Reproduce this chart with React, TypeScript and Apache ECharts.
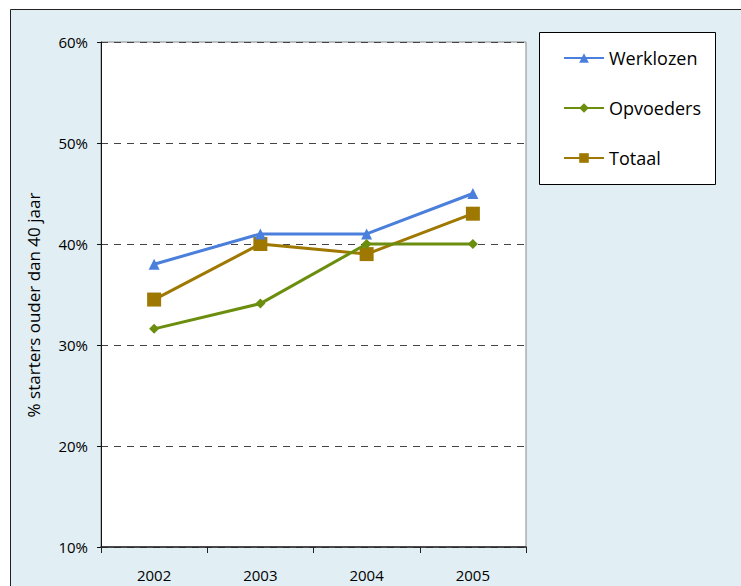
import React, { useEffect, useRef } from "react";
import * as echarts from "echarts";

const categories = ["2002", "2003", "2004", "2005"];
const werklozen = [38, 41, 41, 45];
const opvoeders = [31.6, 34.1, 40, 40];
const totaal = [34.5, 40, 39, 43];
const yTicks = { min: 10, max: 60, interval: 10 };

const FONT = "'Open Sans', sans-serif";

export default function App() {
  const ref = useRef<HTMLDivElement>(null);
  useEffect(() => {
    if (!ref.current) return;
    const chart = echarts.init(ref.current, null, { renderer: "svg" });
    chart.setOption({
      animation: false,
      backgroundColor: "#ffffff",
      textStyle: { fontFamily: FONT },
      graphic: [
        {
          type: "rect",
          z: -100,
          silent: true,
          shape: { x: 10.5, y: 9.5, width: 800, height: 700 },
          style: { fill: "#e1eef3", stroke: "#222222", lineWidth: 1 },
        },
        {
          type: "rect",
          z: 10,
          silent: true,
          shape: { x: 539.5, y: 32.5, width: 176, height: 152 },
          style: { fill: "#ffffff", stroke: "#000000", lineWidth: 1 },
        },
        {
          type: "text",
          z: 10,
          x: 33,
          y: 305,
          rotation: Math.PI / 2,
          style: {
            text: "% starters ouder dan 40 jaar",
            fontFamily: FONT,
            fontSize: 17,
            fill: "#000000",
            align: "center",
            verticalAlign: "middle",
          },
        },
      ],
      grid: {
        left: 101,
        top: 42,
        right: 215,
        bottom: 39,
        show: true,
        backgroundColor: "#ffffff",
        borderColor: "#8a8a8a",
        borderWidth: 1,
      },
      legend: {
        orient: "vertical",
        left: 563,
        top: 48,
        padding: 0,
        itemWidth: 40,
        itemHeight: 12,
        itemGap: 30,
        z: 20,
        textStyle: {
          fontFamily: FONT,
          fontSize: 18,
          lineHeight: 20,
          color: "#000000",
        },
        data: ["Werklozen", "Opvoeders", "Totaal"],
      },
      xAxis: {
        type: "category",
        data: categories,
        boundaryGap: true,
        axisLine: { lineStyle: { color: "#222222", width: 1.5 } },
        axisTick: { show: true, length: 6, lineStyle: { color: "#222222" } },
        axisLabel: { fontFamily: FONT, fontSize: 15, color: "#000000", margin: 20 },
        splitLine: { show: false },
      },
      yAxis: {
        type: "value",
        min: yTicks.min,
        max: yTicks.max,
        interval: yTicks.interval,
        axisLine: { show: true, lineStyle: { color: "#111111", width: 1 } },
        axisTick: { show: true, length: 4, lineStyle: { color: "#111111" } },
        axisLabel: {
          fontFamily: FONT,
          fontSize: 15,
          color: "#000000",
          margin: 13,
          formatter: "{value}%",
        },
        splitLine: {
          show: true,
          lineStyle: { color: "#444444", type: [7, 6], width: 1 },
        },
      },
      series: [
        {
          name: "Werklozen",
          type: "line",
          data: werklozen,
          symbol: "triangle",
          symbolSize: 11,
          color: "#4a7fdc",
          lineStyle: { width: 3, color: "#4a7fdc" },
          itemStyle: { color: "#4a7fdc" },
          z: 3,
        },
        {
          name: "Opvoeders",
          type: "line",
          data: opvoeders,
          symbol: "diamond",
          symbolSize: 10,
          color: "#6b8e0e",
          lineStyle: { width: 3, color: "#6b8e0e" },
          itemStyle: { color: "#6b8e0e" },
          z: 4,
        },
        {
          name: "Totaal",
          type: "line",
          data: totaal,
          symbol: "rect",
          symbolSize: 14,
          color: "#9e7800",
          lineStyle: { width: 3, color: "#9e7800" },
          itemStyle: { color: "#9e7800" },
          z: 2,
        },
      ],
    });
    return () => chart.dispose();
  }, []);
  return (
    <div
      ref={ref}
      style={{ position: "absolute", left: 0, top: 0, width: 741, height: 586 }}
    />
  );
}
